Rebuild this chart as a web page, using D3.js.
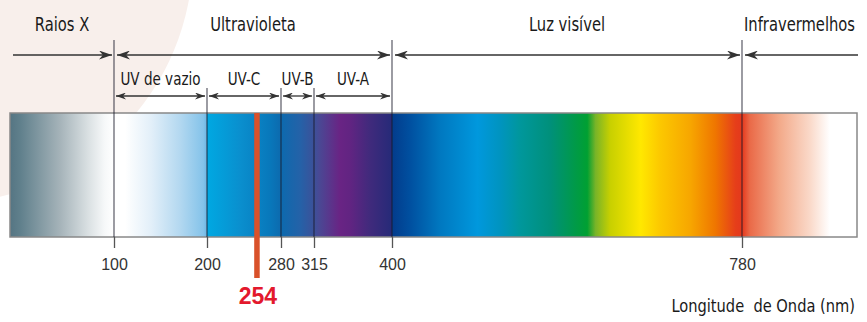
<!DOCTYPE html>
<html>
<head>
  <meta charset="utf-8">
  <title>Espectro eletromagnético</title>
  <script src="https://cdn.jsdelivr.net/npm/d3@7/dist/d3.min.js"></script>
  <style>
    body { margin: 0; background: #fff; }
    .lbl { font-family: 'Liberation Sans Narrow', 'DejaVu Sans Condensed', sans-serif; fill: #1a1a1a; }
  </style>
</head>
<body>
  <svg width="867" height="322"></svg>
  <script>
    // wavelength breakpoints of the (non-linear) axis, in nm
    const waveBreaks = [0, 100, 200, 280, 315, 400, 780, 1000];
    const tickValues = [100, 200, 280, 315, 400, 780];
    const highlight = 254;

    // main regions
    const regionLabels = ['Raios X', 'Ultravioleta', 'Luz visível', 'Infravermelhos'];
    const regionStart = [0, 100, 400, 780];
    const regionEnd = [100, 400, 780, 1000];

    // UV sub-bands
    const uvLabels = ['UV de vazio', 'UV-C', 'UV-B', 'UV-A'];
    const uvStart = [100, 200, 280, 315];
    const uvEnd = [200, 280, 315, 400];

    // colour of the strip at some wavelengths
    const spectrumWaves = [0, 10, 48, 77, 91, 100, 112, 140, 171, 196, 199.5, 200.5, 236, 268, 280, 300, 314, 321, 343, 354, 376, 399.5, 400.5, 420, 452, 493, 517, 539, 572, 599, 612, 621, 637, 670, 691, 724, 751, 773, 780, 795, 852, 910, 948, 1000];
    const spectrumColors = ['#557583', '#60808c', '#a5b3b9', '#dde3e5', '#f6f8f9', '#ffffff', '#ffffff', '#e2eff9', '#b3d8f0', '#84c3ea', '#6fb8e5', '#00a8e2', '#0a8fce', '#0878bb', '#0c6aae', '#2462a8', '#3a529a', '#4a4894', '#692484', '#622482', '#402a7c', '#262a78', '#033c8c', '#0050a0', '#0078c0', '#0098dd', '#0094c0', '#00979c', '#00907a', '#009a48', '#00a032', '#78b428', '#c8d000', '#ffe800', '#fcc800', '#f7a600', '#ef7600', '#e63e1a', '#e4381c', '#ea6a48', '#f3aa8a', '#fad9c9', '#ffffff', '#ffffff'];

    const svg = d3.select('svg');
    const barTop = 113, barBottom = 237;
    const rowTop = 55, rowUv = 96;

    const x = d3.scaleLinear()
      .domain(waveBreaks)
      .range([10, 114, 207, 281, 314, 392, 742, 857]);

    const defs = svg.append('defs');

    // condensed-looking text: placed with a transform and squeezed horizontally
    function place(sel, px, py, k) {
      sel.attr('x', 0).attr('y', 0)
        .attr('transform', (d, i) => `translate(${typeof px === 'function' ? px(d, i) : px},${py}) scale(${k},1)`);
    }

    // soft pink background shape top-left
    svg.append('circle')
      .attr('cx', -55).attr('cy', -45).attr('r', 248)
      .attr('fill', '#f8efeb');

    // gradient for the spectrum strip
    const x0 = x(0), x1 = x(1000);
    const grad = defs.append('linearGradient')
      .attr('id', 'spec')
      .attr('gradientUnits', 'userSpaceOnUse')
      .attr('x1', x0).attr('x2', x1).attr('y1', 0).attr('y2', 0);
    grad.selectAll('stop')
      .data(spectrumWaves)
      .enter()
      .append('stop')
      .attr('offset', d => (x(d) - x0) / (x1 - x0))
      .attr('stop-color', (d, i) => spectrumColors[i]);

    // arrow markers
    function marker(id, len, half) {
      defs.append('marker')
        .attr('id', id)
        .attr('markerUnits', 'userSpaceOnUse')
        .attr('viewBox', `0 ${-half} ${len} ${half * 2}`)
        .attr('markerWidth', len)
        .attr('markerHeight', half * 2)
        .attr('refX', len)
        .attr('refY', 0)
        .attr('orient', 'auto-start-reverse')
        .append('path')
        .attr('d', `M0,${-half}L${len},0L0,${half}L${len * 0.3},0Z`)
        .attr('fill', '#333');
    }
    marker('arrowBig', 13, 4.5);
    marker('arrowSmall', 10, 3.5);

    svg.append('rect')
      .attr('x', x0).attr('y', barTop)
      .attr('width', x1 - x0).attr('height', barBottom - barTop)
      .attr('fill', 'url(#spec)')
      .attr('stroke', '#888')
      .attr('stroke-width', 1.5);

    // boundary lines
    const mainBounds = [100, 400, 780];
    svg.append('g')
      .selectAll('line')
      .data(tickValues)
      .enter()
      .append('line')
      .attr('x1', d => x(d)).attr('x2', d => x(d))
      .attr('y1', d => mainBounds.includes(d) ? 40 : 88)
      .attr('y2', barBottom)
      .attr('stroke', '#1c1c2a')
      .attr('stroke-opacity', 0.62)
      .attr('stroke-width', 1.4);

    // top row arrows
    const regions = regionLabels.map((l, i) => ({ label: l, a: regionStart[i], b: regionEnd[i] }));
    const rg = svg.append('g');
    rg.selectAll('line')
      .data(regions)
      .enter()
      .append('line')
      .attr('x1', d => x(d.a) + 3)
      .attr('x2', d => d.b === 1000 ? x(d.b) + 1 : x(d.b) - 2)
      .attr('y1', rowTop).attr('y2', rowTop)
      .attr('stroke', '#333')
      .attr('stroke-width', 1.6)
      .attr('marker-start', d => d.a === 0 ? null : 'url(#arrowBig)')
      .attr('marker-end', d => d.b === 1000 ? null : 'url(#arrowBig)');
    rg.selectAll('text')
      .data(regions)
      .enter()
      .append('text')
      .attr('class', 'lbl')
      .attr('text-anchor', 'middle')
      .style('font-size', '20px')
      .text(d => d.label)
      .call(place, d => (x(d.a) + x(d.b)) / 2, 31, 0.82);

    // UV row arrows
    const uv = uvLabels.map((l, i) => ({ label: l, a: uvStart[i], b: uvEnd[i] }));
    const ug = svg.append('g');
    ug.selectAll('line')
      .data(uv)
      .enter()
      .append('line')
      .attr('x1', d => x(d.a) + 2)
      .attr('x2', d => x(d.b) - 2)
      .attr('y1', rowUv).attr('y2', rowUv)
      .attr('stroke', '#333')
      .attr('stroke-width', 1.3)
      .attr('marker-start', 'url(#arrowSmall)')
      .attr('marker-end', 'url(#arrowSmall)');
    ug.selectAll('text')
      .data(uv)
      .enter()
      .append('text')
      .attr('class', 'lbl')
      .attr('text-anchor', 'middle')
      .style('font-size', '17.5px')
      .text(d => d.label)
      .call(place, d => (x(d.a) + x(d.b)) / 2, 85, 0.86);

    // highlighted wavelength
    svg.append('line')
      .attr('x1', x(highlight)).attr('x2', x(highlight))
      .attr('y1', barTop).attr('y2', 278)
      .attr('stroke', '#d9512a')
      .attr('stroke-width', 5.5);
    svg.append('text')
      .attr('x', x(highlight) + 1)
      .attr('y', 304)
      .attr('text-anchor', 'middle')
      .style('font-family', 'Liberation Sans, Arial, sans-serif')
      .style('font-weight', 'bold')
      .style('font-size', '23px')
      .attr('fill', '#e3192d')
      .text(highlight);

    // axis
    const axis = svg.append('g')
      .attr('transform', `translate(0,${barBottom})`)
      .call(d3.axisBottom(x).tickValues(tickValues).tickSize(11).tickPadding(11).tickFormat(d3.format('d')));
    axis.select('.domain').remove();
    axis.selectAll('line').attr('stroke', '#555').attr('stroke-width', 1.3);
    axis.selectAll('text')
      .style('font-family', 'Liberation Sans, Arial, sans-serif')
      .style('font-size', '16px')
      .attr('fill', '#333');

    svg.append('text')
      .attr('class', 'lbl')
      .attr('text-anchor', 'end')
      .style('font-size', '18.5px')
      .style('white-space', 'pre')
      .text('Longitude  de Onda (nm)')
      .call(place, 855, 312, 0.88);
  </script>
</body>
</html>
